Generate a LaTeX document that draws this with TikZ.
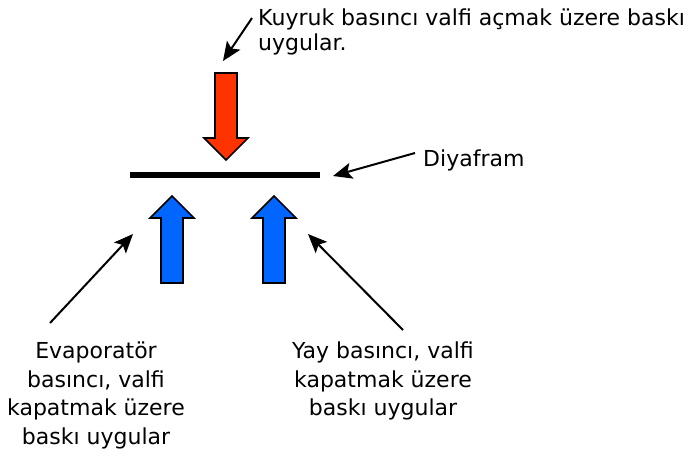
\documentclass[tikz,border=0pt]{standalone}
\usepackage{fontspec}
\setmainfont{DejaVu Sans}
\usetikzlibrary{arrows.meta}
\definecolor{redarrow}{HTML}{FF3300}
\definecolor{bluearrow}{HTML}{0066FF}
\begin{document}
\begin{tikzpicture}[x=1pt,y=-1pt,
  lbl/.style={inner sep=0pt,font=\fontsize{22}{25}\selectfont},
  lblb/.style={inner sep=0pt,font=\fontsize{22}{28.5}\selectfont},
  pointer/.style={line width=2pt,-{Stealth[length=19pt,width=16pt,inset=4pt]}},
  blockarrow/.style={draw=black,line width=1.6pt,line join=miter}]
\useasboundingbox (0,0) rectangle (698,461);
% diaphragm
\coordinate (dl) at (130,175);
\coordinate (dr) at (320,175);
\draw[line width=5.5pt] (dl) -- (dr);
% red arrow
\filldraw[blockarrow,fill=redarrow] (215,73) -- (237,73) -- (237,138) -- (248,138) -- (226,160) -- (204,138) -- (215,138) -- cycle;
% blue arrows
\filldraw[blockarrow,fill=bluearrow] (161,283) -- (183,283) -- (183,218) -- (194,218) -- (172,196) -- (150,218) -- (161,218) -- cycle;
\filldraw[blockarrow,fill=bluearrow] (263,283) -- (285,283) -- (285,218) -- (296,218) -- (274,196) -- (252,218) -- (263,218) -- cycle;
% labels
\node[lbl,anchor=north west,align=left] (top) at (258,9) {Kuyruk basıncı valfi açmak üzere baskı\\uygular.};
\node[lbl,anchor=west] (dia) at (423,160) {Diyafram};
\node[lblb,align=center,anchor=north] (evap) at (96,342) {Evaporatör\\basıncı, valfi\\kapatmak üzere\\baskı uygular};
\node[lblb,align=center,anchor=north] (yay) at (383,342) {Yay basıncı, valfi\\kapatmak üzere\\baskı uygular};
% pointer arrows
\coordinate (t1) at (252,18);
\coordinate (t1tip) at (223,61);
\draw[pointer] (t1) -- (t1tip);
\coordinate (d1) at (415,153);
\coordinate (d1tip) at (333,176);
\draw[pointer] (d1) -- (d1tip);
\coordinate (e1) at (50,323);
\coordinate (e1tip) at (133,234);
\draw[pointer] (e1) -- (e1tip);
\coordinate (y1) at (403,330);
\coordinate (y1tip) at (308,234);
\draw[pointer] (y1) -- (y1tip);
\end{tikzpicture}
\end{document}
